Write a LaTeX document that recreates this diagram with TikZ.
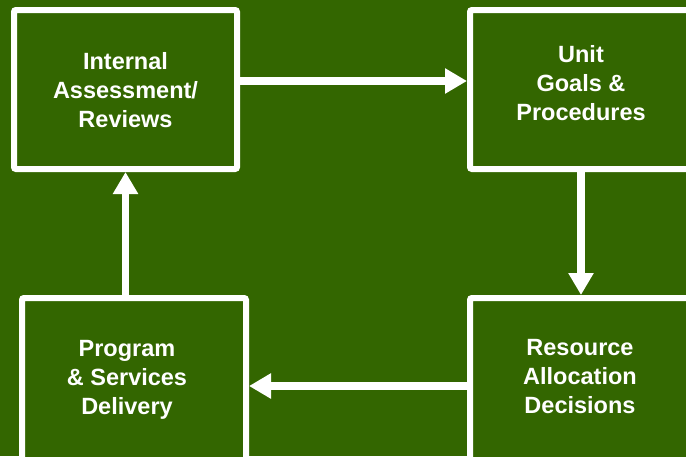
\documentclass[tikz,border=0pt]{standalone}
\usepackage{fontspec}
\setmainfont{Liberation Sans}
\usetikzlibrary{arrows.meta}
\definecolor{bggreen}{HTML}{336600}
\tikzset{
  box/.style={draw=white, line width=6pt, fill=bggreen, rounded corners=2pt, inner sep=0pt},
  lbl/.style={text=white, font=\fontsize{23.5}{29}\selectfont\bfseries, align=center, inner sep=0pt},
  flow/.style={draw=white, line width=7.5pt, -{Triangle[length=22pt,width=24pt]}}
}
\begin{document}
\begin{tikzpicture}[x=1pt,y=-1pt]
\fill[bggreen] (0,0) rectangle (686,456);
\useasboundingbox (0,0) rectangle (686,456);
\clip (0,0) rectangle (686,456);
\node[box, minimum width=223pt, minimum height=159pt] (ia) at (125.5,89.5) {};
\node[box, minimum width=222pt, minimum height=159pt] (ug) at (581,89.5) {};
\node[box, minimum width=224pt, minimum height=176pt] (ps) at (134,386) {};
\node[box, minimum width=222pt, minimum height=176pt] (ra) at (581,386) {};
\node[lbl] (tia) at (125.5,90.5) {Internal\\Assessment/\\Reviews};
\node[lbl] (tug) at (581,83) {Unit\\Goals \&\\Procedures};
\node[lbl] (tps) at (127,380) {Program\\\& Services\\Delivery};
\node[lbl] (tra) at (580,377) {Resource\\Allocation\\Decisions};
\draw[flow] ([yshift=8.5pt]ia.east) -- ([yshift=8.5pt]ug.west);
\draw[flow] (ug.south) -- (ra.north);
\draw[flow] (ra.west) -- (ps.east);
\draw[flow] (ps.north -| ia.south) -- (ia.south);
\end{tikzpicture}
\end{document}
